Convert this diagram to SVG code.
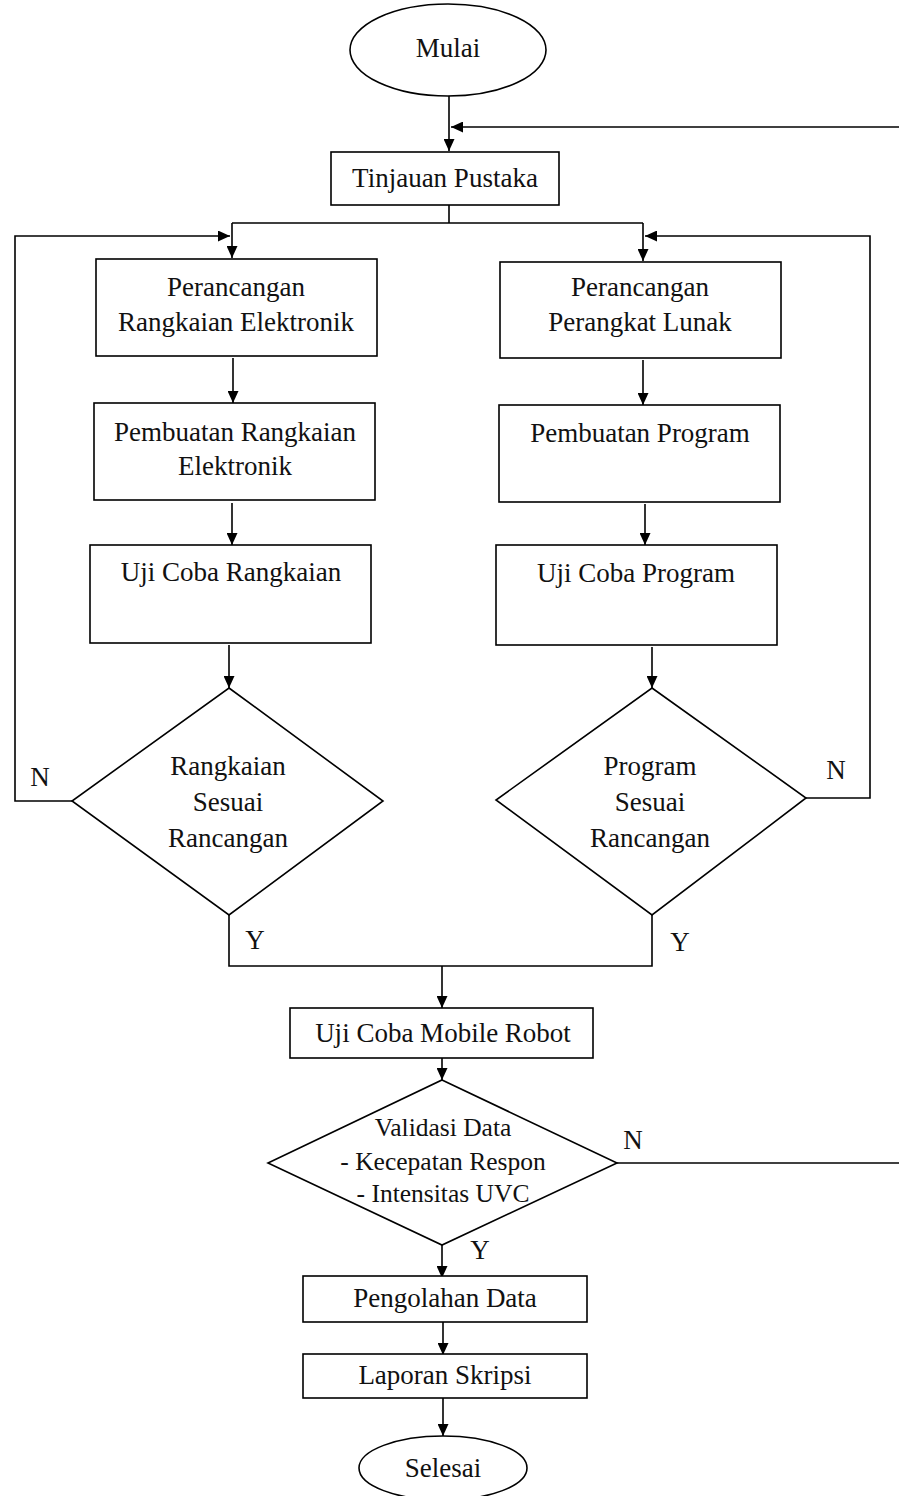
<svg xmlns="http://www.w3.org/2000/svg" width="899" height="1496" viewBox="0 0 899 1496">
<style>
.s{fill:#fff;stroke:#000;stroke-width:1.6}
.c{fill:none;stroke:#000;stroke-width:1.6}
text{font-family:"Liberation Serif","Times New Roman",serif;font-size:27px;fill:#111;text-anchor:middle}
.v{font-size:25.5px}
</style>
<defs>
<marker id="ar" markerUnits="userSpaceOnUse" markerWidth="13" markerHeight="11" refX="12" refY="5.5" orient="auto">
<path d="M0,0 L12,5.5 L0,11 z" fill="#000"/>
</marker>
</defs>
<rect width="899" height="1496" fill="#fff"/>
<g id="connectors">
<path class="c" d="M449,96 V151" marker-end="url(#ar)"/>
<path class="c" d="M899,127 H451" marker-end="url(#ar)"/>
<path class="c" d="M617,1163 H899"/>
<path class="c" d="M449,205 V223 M232,223 H643"/>
<path class="c" d="M232,223 V258" marker-end="url(#ar)"/>
<path class="c" d="M643,223 V261" marker-end="url(#ar)"/>
<path class="c" d="M233,358 V403" marker-end="url(#ar)"/>
<path class="c" d="M232,503 V545" marker-end="url(#ar)"/>
<path class="c" d="M229,645 V688" marker-end="url(#ar)"/>
<path class="c" d="M643,360 V405" marker-end="url(#ar)"/>
<path class="c" d="M645,504 V545" marker-end="url(#ar)"/>
<path class="c" d="M652,647 V688" marker-end="url(#ar)"/>
<path class="c" d="M72,801 H15 V236 H230" marker-end="url(#ar)"/>
<path class="c" d="M806,798 H870 V236 H645" marker-end="url(#ar)"/>
<path class="c" d="M229,915 V966 H652 V915"/>
<path class="c" d="M442,966 V1008" marker-end="url(#ar)"/>
<path class="c" d="M442,1058 V1080" marker-end="url(#ar)"/>
<path class="c" d="M442,1245 V1278" marker-end="url(#ar)"/>
<path class="c" d="M443,1322 V1355" marker-end="url(#ar)"/>
<path class="c" d="M443,1398 V1436" marker-end="url(#ar)"/>
<text x="40" y="786">N</text>
<text x="836" y="779">N</text>
<text x="255" y="949">Y</text>
<text x="680" y="951">Y</text>
<text x="633" y="1149">N</text>
<text x="480" y="1259">Y</text>
</g>
<g id="mulai">
<ellipse class="s" cx="448" cy="50" rx="98" ry="46"/>
<text x="448" y="57">Mulai</text>
</g>
<g id="tinjauan">
<rect class="s" x="331" y="152" width="228" height="53"/>
<text x="445" y="187">Tinjauan Pustaka</text>
</g>
<g id="perancangan-rangkaian">
<rect class="s" x="96" y="259" width="281" height="97"/>
<text x="236" y="296">Perancangan</text>
<text x="236" y="331">Rangkaian Elektronik</text>
</g>
<g id="pembuatan-rangkaian">
<rect class="s" x="94" y="403" width="281" height="97"/>
<text x="235" y="441">Pembuatan Rangkaian</text>
<text x="235" y="475">Elektronik</text>
</g>
<g id="uji-rangkaian">
<rect class="s" x="90" y="545" width="281" height="98"/>
<text x="231" y="581">Uji Coba Rangkaian</text>
</g>
<g id="rangkaian-sesuai">
<polygon class="s" points="229,688 383,801 229,915 72,801"/>
<text x="228" y="775">Rangkaian</text>
<text x="228" y="811">Sesuai</text>
<text x="228" y="847">Rancangan</text>
</g>
<g id="perancangan-perangkat">
<rect class="s" x="500" y="262" width="281" height="96"/>
<text x="640" y="296">Perancangan</text>
<text x="640" y="331">Perangkat Lunak</text>
</g>
<g id="pembuatan-program">
<rect class="s" x="499" y="405" width="281" height="97"/>
<text x="640" y="442">Pembuatan Program</text>
</g>
<g id="uji-program">
<rect class="s" x="496" y="545" width="281" height="100"/>
<text x="636" y="582">Uji Coba Program</text>
</g>
<g id="program-sesuai">
<polygon class="s" points="652,688 806,798 652,915 496,800"/>
<text x="650" y="775">Program</text>
<text x="650" y="811">Sesuai</text>
<text x="650" y="847">Rancangan</text>
</g>
<g id="uji-mobile">
<rect class="s" x="290" y="1008" width="303" height="50"/>
<text x="443" y="1042">Uji Coba Mobile Robot</text>
</g>
<g id="validasi">
<polygon class="s" points="442,1080 617,1163 442,1245 268,1163"/>
<text class="v" x="443" y="1136">Validasi Data</text>
<text class="v" x="443" y="1170">- Kecepatan Respon</text>
<text class="v" x="443" y="1202">- Intensitas UVC</text>
</g>
<g id="pengolahan">
<rect class="s" x="303" y="1276" width="284" height="46"/>
<text x="445" y="1307">Pengolahan Data</text>
</g>
<g id="laporan">
<rect class="s" x="303" y="1354" width="284" height="44"/>
<text x="445" y="1384">Laporan Skripsi</text>
</g>
<g id="selesai">
<ellipse class="s" cx="443" cy="1468" rx="84" ry="32"/>
<text x="443" y="1477">Selesai</text>
</g>
</svg>
